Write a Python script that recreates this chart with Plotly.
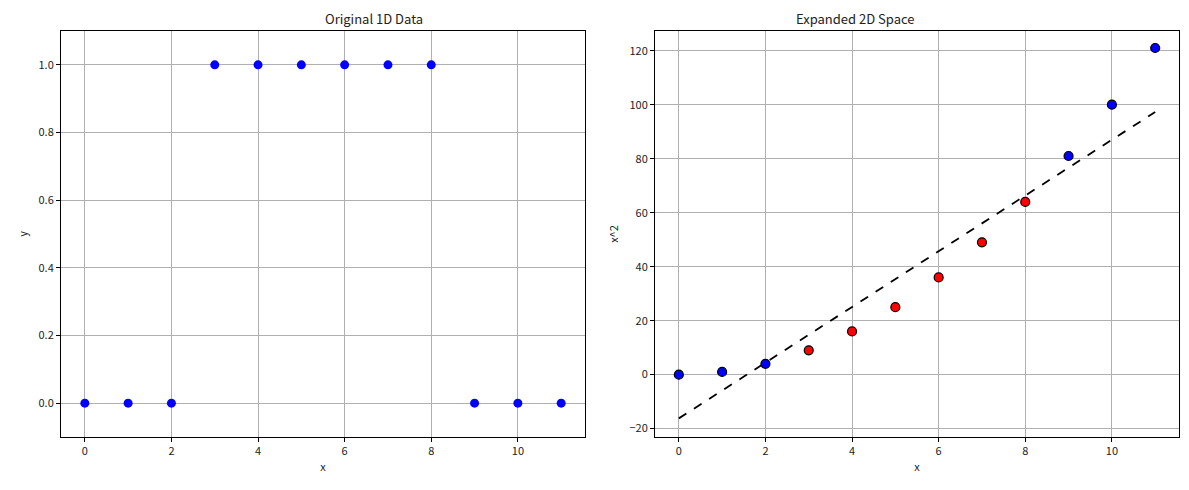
import plotly.graph_objects as go

x = list(range(12))
y_1d = [0, 0, 0, 1, 1, 1, 1, 1, 1, 0, 0, 0]
x_sq = [v * v for v in x]
labels = [0, 0, 0, 1, 1, 1, 1, 1, 1, 0, 0, 0]
line_x = [0, 11]
line_y = [-16.2, 97.3]

W, H = 1189, 490
OFF = 8  # page body margin
font = "Noto Sans CJK KR, Noto Sans, sans-serif"
colors = ["blue" if l == 0 else "red" for l in labels]


def px(v):
    return (v - OFF) / W


def py(v):
    return (H - (v - OFF)) / H


fig = go.Figure()
fig.add_trace(go.Scatter(x=x, y=y_1d, mode="markers", xaxis="x", yaxis="y",
                         marker=dict(color="blue", size=9, line=dict(width=0)),
                         showlegend=False))
fig.add_trace(go.Scatter(x=x, y=x_sq, mode="markers", xaxis="x2", yaxis="y2",
                         marker=dict(color=colors, size=9, line=dict(color="black", width=1.2)),
                         showlegend=False))
fig.add_trace(go.Scatter(x=line_x, y=line_y, mode="lines", xaxis="x2", yaxis="y2",
                         line=dict(color="black", dash="dash", width=1.8),
                         showlegend=False))

ax = dict(showgrid=True, gridcolor="#b0b0b0", gridwidth=1, zeroline=False,
          showline=True, mirror=True, linecolor="black", linewidth=1,
          ticks="outside", ticklen=4, tickcolor="black",
          tickfont=dict(size=11, color="#222"))
ydom = [py(437), py(31)]
fig.update_layout(
    width=W, height=H, margin=dict(l=0, r=0, t=0, b=0),
    paper_bgcolor="white", plot_bgcolor="white",
    font=dict(family=font, color="#222"),
    xaxis=dict(ax, domain=[px(61), px(585)], range=[-0.55, 11.55], dtick=2,
               title=dict(text="x", font=dict(size=11), standoff=6)),
    yaxis=dict(ax, domain=ydom, range=[-0.1, 1.1], dtick=0.2, tickformat=".1f",
               title=dict(text="y", font=dict(size=11), standoff=8)),
    xaxis2=dict(ax, domain=[px(655), px(1179)], range=[-0.55, 11.55], dtick=2, anchor="y2",
                title=dict(text="x", font=dict(size=11), standoff=6)),
    yaxis2=dict(ax, domain=ydom, range=[-23.1, 127.3], dtick=20, anchor="x2",
                title=dict(text="x^2", font=dict(size=11), standoff=8)),
    annotations=[
        dict(text="Original 1D Data", x=px((61 + 585) / 2), y=py(18),
             xref="paper", yref="paper", yanchor="middle", showarrow=False, font=dict(size=13)),
        dict(text="Expanded 2D Space", x=px((655 + 1179) / 2), y=py(18),
             xref="paper", yref="paper", yanchor="middle", showarrow=False, font=dict(size=13)),
    ],
)
fig.write_html("out.html")
